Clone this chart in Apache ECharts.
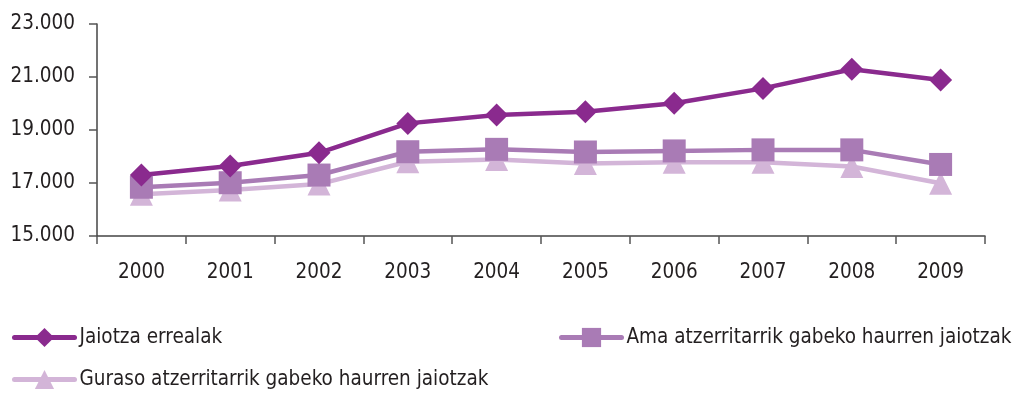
<!DOCTYPE html>
<html>
<head>
<meta charset="utf-8">
<script src="https://cdn.jsdelivr.net/npm/echarts@6/dist/echarts.min.js"></script>
<style>
  html, body { margin: 0; padding: 0; background: #fff; }
  #chart { width: 1012px; height: 395px; }
</style>
</head>
<body>
<div id="chart"></div>
<script>
// Births per year, 2000-2009
const years = ['2000', '2001', '2002', '2003', '2004', '2005', '2006', '2007', '2008', '2009'];
const jaiotzaErrealak = [17300, 17640, 18140, 19250, 19570, 19690, 20010, 20570, 21290, 20890];
const amaAtzerritarrikGabe = [16840, 17010, 17300, 18180, 18270, 18170, 18210, 18250, 18250, 17700];
const gurasoAtzerritarrikGabe = [16580, 16740, 16960, 17800, 17890, 17740, 17780, 17780, 17620, 16990];
const seriesNames = [
  'Jaiotza errealak',
  'Ama atzerritarrik gabeko haurren jaiotzak',
  'Guraso atzerritarrik gabeko haurren jaiotzak'
];

const FONT = '"DejaVu Sans Condensed", "Liberation Sans Narrow", sans-serif';
const TEXT = '#231f20';
const FS = 20.5;

function fmt(v) {
  return String(v).replace(/\B(?=(\d{3})+(?!\d))/g, '.');
}

function legendAt(name, left, top) {
  return {
    data: [name],
    left: left,
    top: top,
    padding: 0,
    itemWidth: 60,
    itemHeight: 24,
    itemGap: 5,
    lineStyle: { width: 5, cap: 'round' },
    textStyle: { fontFamily: FONT, fontSize: FS, color: TEXT },
    selectedMode: false
  };
}

function lineSeries(name, data, color, symbol) {
  return {
    name: name,
    type: 'line',
    data: data,
    symbol: symbol,
    symbolSize: 23,
    lineStyle: { color: color, width: 4.5 },
    itemStyle: { color: color },
    z: 2
  };
}

const chart = echarts.init(document.getElementById('chart'));
chart.setOption({
  animation: false,
  backgroundColor: '#fff',
  grid: { left: 97, right: 27, top: 24, bottom: 159 },
  legend: [
    legendAt(seriesNames[0], 12, 327),
    legendAt(seriesNames[1], 559, 327),
    legendAt(seriesNames[2], 12, 369)
  ],
  xAxis: {
    type: 'category',
    data: years,
    boundaryGap: true,
    axisLine: { lineStyle: { color: '#444', width: 1.5 } },
    axisTick: { show: true, length: 8, lineStyle: { color: '#555', width: 1.5 } },
    axisLabel: { fontFamily: FONT, fontSize: FS, color: TEXT, margin: 26 }
  },
  yAxis: {
    type: 'value',
    min: 15000,
    max: 23000,
    interval: 2000,
    splitLine: { show: false },
    axisLine: { show: true, lineStyle: { color: '#444', width: 1.5 } },
    axisTick: { show: true, length: 8, lineStyle: { color: '#555', width: 1.5 } },
    axisLabel: { fontFamily: FONT, fontSize: FS, color: TEXT, margin: 22, formatter: fmt }
  },
  series: [
    lineSeries(seriesNames[2], gurasoAtzerritarrikGabe, '#d3b5d8', 'triangle'),
    lineSeries(seriesNames[1], amaAtzerritarrikGabe, '#a97bb5', 'rect'),
    lineSeries(seriesNames[0], jaiotzaErrealak, '#8a2a8e', 'diamond')
  ]
});
</script>
</body>
</html>
